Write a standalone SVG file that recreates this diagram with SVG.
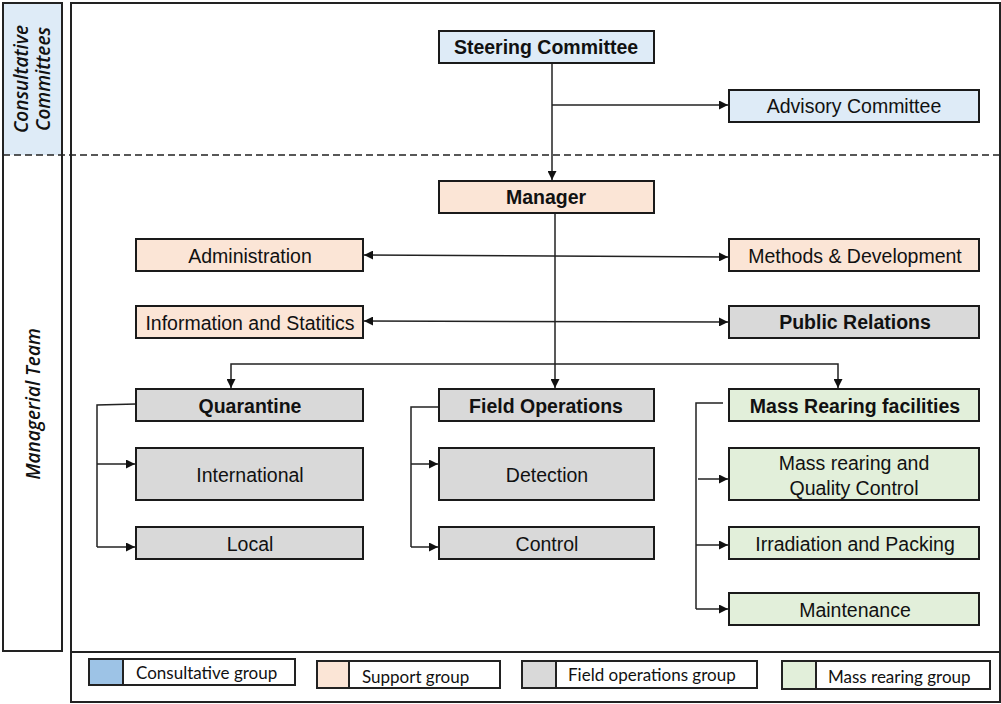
<svg xmlns="http://www.w3.org/2000/svg" width="1001" height="704" viewBox="0 0 1001 704">
<style>
.n{stroke:#1a1a1a;stroke-width:2}
.b{fill:#DEEBF7}.s{fill:#FBE5D6}.g{fill:#D9D9D9}.m{fill:#E2EFDA}
.t{font-family:"Liberation Sans",Arial,sans-serif;font-size:19.5px;fill:#111;text-anchor:middle;dominant-baseline:central}
.bold{font-weight:bold}
.c{fill:none;stroke:#222;stroke-width:1.5}
.lg{font-family:Lato,"Open Sans",sans-serif;font-size:17px;fill:#111;dominant-baseline:central}
.side{font-family:"Open Sans",sans-serif;font-size:19px;font-style:italic;font-weight:600;fill:#111;text-anchor:middle;dominant-baseline:central}
</style>
<defs>
<marker id="a" viewBox="0 0 10 10" refX="10" refY="5" markerWidth="9" markerHeight="9" markerUnits="userSpaceOnUse" orient="auto-start-reverse"><path d="M0,0L10,5L0,10z" fill="#111"/></marker>
</defs>
<rect width="1001" height="704" fill="#fff"/>
<g id="frame">
<rect x="3" y="3" width="59" height="152" fill="#DEEBF7"/>
<rect x="3" y="3" width="59" height="648" fill="none" stroke="#222" stroke-width="2"/>
<rect x="71" y="3" width="929" height="699" fill="none" stroke="#222" stroke-width="2"/>
<line x1="71" y1="652" x2="1000" y2="652" stroke="#222" stroke-width="2"/>
<line x1="3" y1="155" x2="1000" y2="155" stroke="#222" stroke-width="1.5" stroke-dasharray="7,4"/>
<text class="side" transform="translate(21,79) rotate(-90)">Consultative</text>
<text class="side" transform="translate(43,79) rotate(-90)">Committees</text>
<text class="side" transform="translate(33,404) rotate(-90)">Managerial Team</text>
</g>
<g id="connectors">
<path class="c" d="M552,63V180" marker-end="url(#a)"/>
<path class="c" d="M552,105H728" marker-end="url(#a)"/>
<path class="c" d="M555,213V388" marker-end="url(#a)"/>
<path class="c" d="M364,255L728,257" marker-start="url(#a)" marker-end="url(#a)"/>
<path class="c" d="M364,321L728,322" marker-start="url(#a)" marker-end="url(#a)"/>
<path class="c" d="M231,388V364H838V388" marker-start="url(#a)" marker-end="url(#a)"/>
<path class="c" d="M136,404L97,405V547"/>
<path class="c" d="M97,464H135" marker-end="url(#a)"/>
<path class="c" d="M97,547H135" marker-end="url(#a)"/>
<path class="c" d="M439,407H411V547"/>
<path class="c" d="M411,464H438" marker-end="url(#a)"/>
<path class="c" d="M411,547H438" marker-end="url(#a)"/>
<path class="c" d="M723,403H696V609"/>
<path class="c" d="M698,479H728" marker-end="url(#a)"/>
<path class="c" d="M696,545H728" marker-end="url(#a)"/>
<path class="c" d="M696,609H728" marker-end="url(#a)"/>
</g>
<g id="steering"><rect class="n b" x="439" y="31" width="215" height="32"/><text class="t bold" x="546" y="47">Steering Committee</text></g>
<g id="advisory"><rect class="n b" x="729" y="90" width="250" height="32"/><text class="t" x="854" y="106">Advisory Committee</text></g>
<g id="manager"><rect class="n s" x="439" y="181" width="215" height="32"/><text class="t bold" x="546" y="197">Manager</text></g>
<g id="administration"><rect class="n s" x="136" y="239" width="227" height="32"/><text class="t" x="250" y="256">Administration</text></g>
<g id="methods"><rect class="n s" x="729" y="239" width="250" height="32"/><text class="t" x="855" y="256">Methods &amp; Development</text></g>
<g id="information"><rect class="n s" x="136" y="306" width="227" height="32"/><text class="t" x="250" y="323">Information and Statitics</text></g>
<g id="public"><rect class="n g" x="729" y="306" width="250" height="32"/><text class="t bold" x="855" y="322">Public Relations</text></g>
<g id="quarantine"><rect class="n g" x="136" y="389" width="227" height="32"/><text class="t bold" x="250" y="406">Quarantine</text></g>
<g id="fieldops"><rect class="n g" x="439" y="389" width="215" height="32"/><text class="t bold" x="546" y="406">Field Operations</text></g>
<g id="massrearing"><rect class="n m" x="729" y="389" width="250" height="32"/><text class="t bold" x="855" y="406">Mass Rearing facilities</text></g>
<g id="international"><rect class="n g" x="136" y="448" width="227" height="52"/><text class="t" x="250" y="475">International</text></g>
<g id="detection"><rect class="n g" x="439" y="448" width="215" height="52"/><text class="t" x="547" y="475">Detection</text></g>
<g id="mrqc"><rect class="n m" x="729" y="448" width="250" height="52"/><text class="t" x="854" y="463">Mass rearing and</text><text class="t" x="854" y="488">Quality Control</text></g>
<g id="local"><rect class="n g" x="136" y="527" width="227" height="32"/><text class="t" x="250" y="544">Local</text></g>
<g id="control"><rect class="n g" x="439" y="527" width="215" height="32"/><text class="t" x="547" y="544">Control</text></g>
<g id="irradiation"><rect class="n m" x="729" y="527" width="250" height="32"/><text class="t" x="855" y="544">Irradiation and Packing</text></g>
<g id="maintenance"><rect class="n m" x="729" y="593" width="250" height="32"/><text class="t" x="855" y="610">Maintenance</text></g>
<g id="legend">
<rect x="89" y="659" width="34" height="26" fill="#9DC3E6" stroke="#222" stroke-width="2"/>
<rect x="123" y="659" width="172" height="26" fill="#fff" stroke="#222" stroke-width="2"/>
<text class="lg" x="136" y="672">Consultative group</text>
<rect x="317" y="661" width="32" height="27" fill="#FBE5D6" stroke="#222" stroke-width="2"/>
<rect x="349" y="661" width="151" height="27" fill="#fff" stroke="#222" stroke-width="2"/>
<text class="lg" x="362" y="676">Support group</text>
<rect x="522" y="661" width="34" height="27" fill="#D9D9D9" stroke="#222" stroke-width="2"/>
<rect x="556" y="661" width="201" height="27" fill="#fff" stroke="#222" stroke-width="2"/>
<text class="lg" x="568" y="674">Field operations group</text>
<rect x="782" y="661" width="34" height="28" fill="#E2EFDA" stroke="#222" stroke-width="2"/>
<rect x="816" y="661" width="174" height="28" fill="#fff" stroke="#222" stroke-width="2"/>
<text class="lg" x="828" y="676">Mass rearing group</text>
</g>
</svg>
